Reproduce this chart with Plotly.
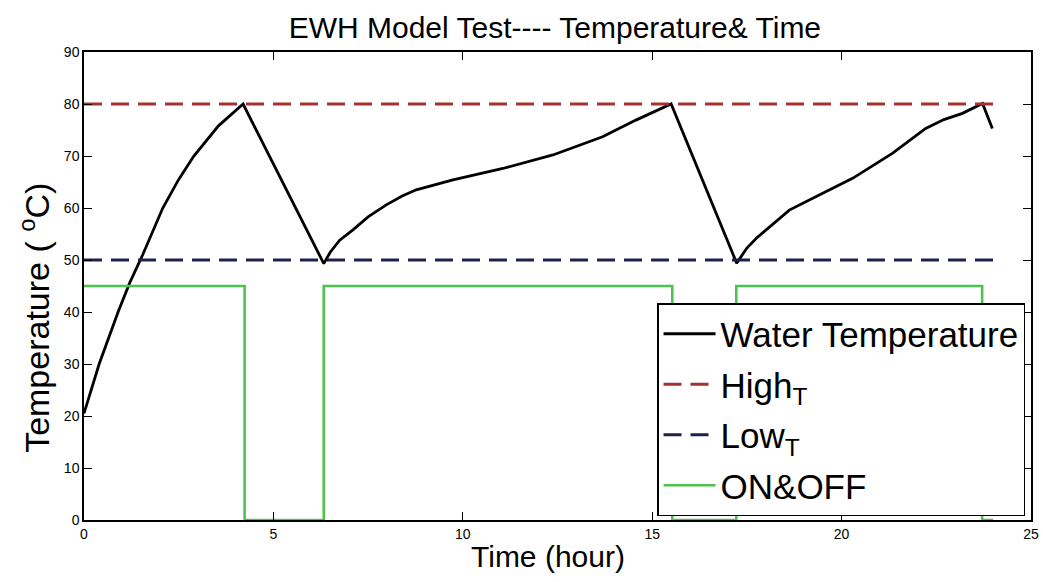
import plotly.graph_objects as go

# Water temperature of the heater (hours, °C)
time_h = [0, 0.4, 0.9, 1.2, 1.55, 2.08, 2.5, 2.9, 3.55, 4.2,
          6.33, 6.5, 6.75, 7.1, 7.5, 7.98, 8.4, 8.77, 9.74, 11.06, 12.38, 13.69, 14.57, 15.5,
          17.23, 17.5, 17.75, 18.0, 18.62, 19.41, 20.29, 21.34, 22.22, 22.7, 23.19, 23.72,
          23.98]
temp_c = [20.5, 30, 40, 45.5, 51, 60, 65.5, 70, 75.8, 80,
          49.3, 51.5, 53.8, 55.8, 58.3, 60.6, 62.3, 63.5, 65.4, 67.6, 70.2, 73.7, 76.9, 80,
          49.4, 52.3, 54.2, 55.8, 59.6, 62.5, 65.7, 70.5, 75.3, 77.0, 78.2, 80.1,
          75.3]

# Thermostat limits
limit_t = [0, 24]
high_t = [80, 80]
low_t = [50, 50]

# Heating element state (45 = ON, 0 = OFF)
switch_t = [0, 4.24, 4.24, 6.33, 6.33, 15.53, 15.53, 17.22, 17.22, 23.71, 23.71, 24]
switch_v = [45, 45, 0, 0, 45, 45, 0, 0, 45, 45, 0, 0]

x_ticks = [0, 5, 10, 15, 20, 25]
y_ticks = [0, 10, 20, 30, 40, 50, 60, 70, 80, 90]

FONT = "Liberation Sans, Arial, sans-serif"

fig = go.Figure()
fig.add_trace(go.Scatter(x=time_h, y=temp_c, mode="lines", name="Water Temperature",
                         legendgroup="a", line=dict(color="black", width=2.8)))
fig.add_trace(go.Scatter(x=limit_t, y=high_t, mode="lines", name="High<sub>T</sub>",
                         legendgroup="b",
                         line=dict(color="#a33232", width=2.8, dash="18px,9px")))
fig.add_trace(go.Scatter(x=limit_t, y=low_t, mode="lines", name="Low<sub>T</sub>",
                         legendgroup="c",
                         line=dict(color="#20204f", width=2.8, dash="18px,9px")))
fig.add_trace(go.Scatter(x=switch_t, y=switch_v, mode="lines", name="ON&OFF",
                         legendgroup="d", line=dict(color="#4cc44c", width=2.6)))

axis_common = dict(showline=True, linecolor="black", linewidth=1.5, mirror="ticks",
                   ticks="inside", ticklen=8, tickwidth=1, tickcolor="black",
                   showgrid=False, zeroline=False,
                   tickfont=dict(family=FONT, size=14, color="black"))

fig.update_xaxes(range=[0, 25], tickvals=x_ticks, ticktext=[str(v) for v in x_ticks],
                 **axis_common)
fig.update_yaxes(range=[0, 90], tickvals=y_ticks, ticktext=[str(v) for v in y_ticks],
                 **axis_common)

# Axis titles placed as paper-anchored annotations
fig.add_annotation(text="Time (hour)", xref="paper", yref="paper", x=0.49, y=-0.079,
                   xanchor="center", yanchor="middle", showarrow=False,
                   font=dict(family=FONT, size=30, color="black"))
fig.add_annotation(text="Temperature ( <sup>o</sup>C)", xref="paper", yref="paper",
                   x=-0.0517, y=0.432, xanchor="center", yanchor="middle",
                   textangle=-90, showarrow=False,
                   font=dict(family=FONT, size=34, color="black"))

fig.update_layout(
    width=1043, height=582,
    margin=dict(l=84, r=12, t=52, b=62, autoexpand=False),
    paper_bgcolor="white", plot_bgcolor="white",
    title=dict(text="EWH Model Test---- Temperature& Time", x=0.532, xanchor="center",
               y=0.952, yanchor="middle",
               font=dict(family=FONT, size=30, color="black")),
    legend=dict(x=0.9937, y=0.0085, xanchor="right", yanchor="bottom",
                bgcolor="white", bordercolor="black", borderwidth=1.5,
                font=dict(family=FONT, size=35, color="black"),
                itemwidth=52, tracegroupgap=2),
    showlegend=True,
)

fig.write_html("out.html")
